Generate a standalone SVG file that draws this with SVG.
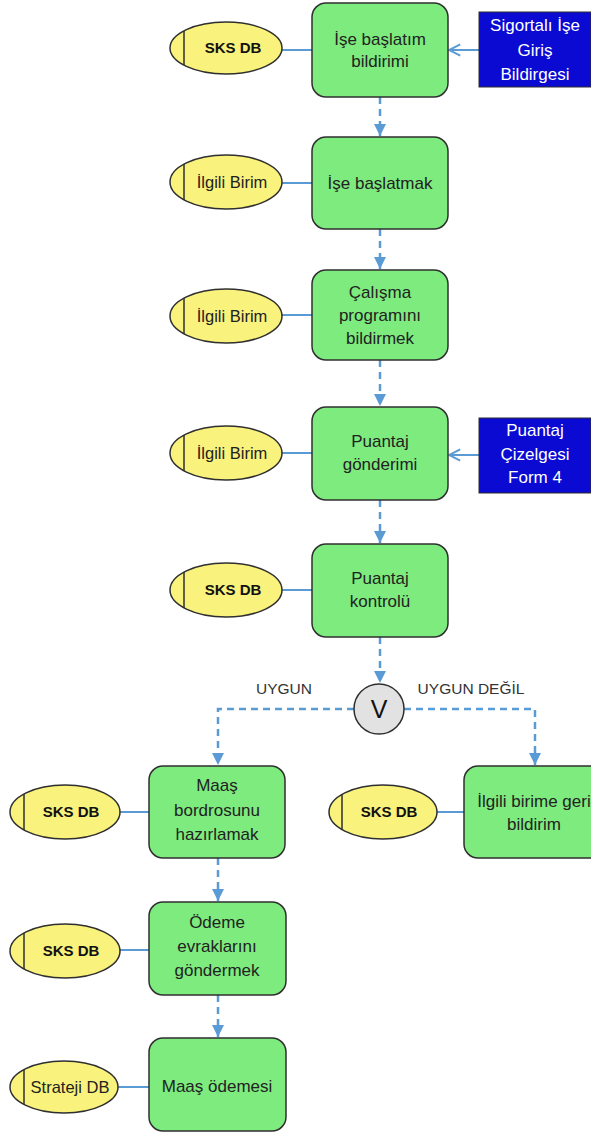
<svg xmlns="http://www.w3.org/2000/svg" width="591" height="1133" viewBox="0 0 591 1133">
<defs>
<marker id="tri" viewBox="0 0 10 10" refX="10" refY="5" markerWidth="12" markerHeight="12" markerUnits="userSpaceOnUse" orient="auto">
<path d="M0,0 L10,5 L0,10 Z" fill="#5B9BD5"/>
</marker>
<marker id="open" viewBox="0 0 10 10" refX="9" refY="5" markerWidth="14" markerHeight="14" markerUnits="userSpaceOnUse" orient="auto">
<path d="M1,1 L9,5 L1,9" fill="none" stroke="#5B9BD5" stroke-width="1.4"/>
</marker>
<style>
.box{fill:#7DEB7D;stroke:#2F2F2F;stroke-width:1.5}
.db{fill:#F9F27C;stroke:#2F2F2F;stroke-width:1.5}
.bar{stroke:#2F2F2F;stroke-width:1.5}
.doc{fill:#0A0AD2;stroke:#2F2F2F;stroke-width:1}
.t{font-family:"Liberation Sans",Arial,sans-serif;font-size:17px;fill:#222;text-anchor:middle}
.te{font-family:"Liberation Sans",Arial,sans-serif;font-size:16.5px;fill:#222;text-anchor:middle}
.tb{font-family:"Liberation Sans",Arial,sans-serif;font-size:15px;font-weight:bold;fill:#111;text-anchor:middle}
.tw{font-family:"Liberation Sans",Arial,sans-serif;font-size:17px;fill:#FFFFFF;text-anchor:middle}
.lbl{font-family:"Liberation Sans",Arial,sans-serif;font-size:15.5px;fill:#333;text-anchor:middle}
.solid{stroke:#5B9BD5;stroke-width:2;fill:none}
.dash{stroke:#5B9BD5;stroke-width:2.5;fill:none;stroke-dasharray:7 5}
</style>
</defs>

<g id="connectors">
<line class="solid" x1="282" y1="50" x2="312" y2="50"/>
<line class="solid" x1="479" y1="50" x2="449" y2="50" marker-end="url(#open)"/>
<line class="dash" x1="380" y1="97" x2="380" y2="136" marker-end="url(#tri)"/>
<line class="solid" x1="282" y1="183" x2="312" y2="183"/>
<line class="dash" x1="380" y1="229" x2="380" y2="269" marker-end="url(#tri)"/>
<line class="solid" x1="282" y1="315" x2="312" y2="315"/>
<line class="dash" x1="380" y1="360" x2="380" y2="406" marker-end="url(#tri)"/>
<line class="solid" x1="282" y1="453" x2="312" y2="453"/>
<line class="solid" x1="479" y1="455" x2="449" y2="455" marker-end="url(#open)"/>
<line class="dash" x1="380" y1="500" x2="380" y2="543" marker-end="url(#tri)"/>
<line class="solid" x1="282" y1="590" x2="312" y2="590"/>
<line class="dash" x1="380" y1="637" x2="380" y2="683" marker-end="url(#tri)"/>
<polyline class="dash" points="354,709 218,709 218,765" marker-end="url(#tri)"/>
<polyline class="dash" points="404,709 535,709 535,765" marker-end="url(#tri)"/>
<line class="solid" x1="120" y1="812" x2="149" y2="812"/>
<line class="solid" x1="437" y1="812" x2="464" y2="812"/>
<line class="dash" x1="218" y1="858" x2="218" y2="901" marker-end="url(#tri)"/>
<line class="solid" x1="120" y1="950" x2="149" y2="950"/>
<line class="dash" x1="218" y1="995" x2="218" y2="1037" marker-end="url(#tri)"/>
<line class="solid" x1="118" y1="1087" x2="149" y2="1087"/>
</g>

<g id="n1">
<rect class="box" x="312" y="3" width="136" height="94" rx="14"/>
<text class="t" x="380" y="45">İşe başlatım</text>
<text class="t" x="380" y="67">bildirimi</text>
</g>
<g id="db1">
<ellipse class="db" cx="226" cy="48" rx="56" ry="26"/>
<line class="bar" x1="184" y1="31" x2="184" y2="65"/>
<text class="tb" x="233" y="53">SKS DB</text>
</g>
<g id="doc1">
<rect class="doc" x="479" y="12" width="112" height="75"/>
<text class="tw" x="535" y="31">Sigortalı İşe</text>
<text class="tw" x="535" y="56">Giriş</text>
<text class="tw" x="535" y="80">Bildirgesi</text>
</g>

<g id="n2">
<rect class="box" x="312" y="137" width="136" height="92" rx="14"/>
<text class="t" x="380" y="189">İşe başlatmak</text>
</g>
<g id="db2">
<ellipse class="db" cx="226" cy="182" rx="56" ry="27"/>
<line class="bar" x1="184" y1="164" x2="184" y2="200"/>
<text class="te" x="232" y="188">İlgili Birim</text>
</g>

<g id="n3">
<rect class="box" x="312" y="270" width="136" height="90" rx="14"/>
<text class="t" x="380" y="298">Çalışma</text>
<text class="t" x="380" y="321">programını</text>
<text class="t" x="380" y="344">bildirmek</text>
</g>
<g id="db3">
<ellipse class="db" cx="226" cy="316" rx="56" ry="27"/>
<line class="bar" x1="184" y1="298" x2="184" y2="334"/>
<text class="te" x="232" y="322">İlgili Birim</text>
</g>

<g id="n4">
<rect class="box" x="312" y="407" width="136" height="93" rx="14"/>
<text class="t" x="380" y="447">Puantaj</text>
<text class="t" x="380" y="470">gönderimi</text>
</g>
<g id="db4">
<ellipse class="db" cx="226" cy="453" rx="56" ry="27"/>
<line class="bar" x1="184" y1="435" x2="184" y2="471"/>
<text class="te" x="232" y="459">İlgili Birim</text>
</g>
<g id="doc2">
<rect class="doc" x="479" y="418" width="112" height="75"/>
<text class="tw" x="535" y="436">Puantaj</text>
<text class="tw" x="535" y="460">Çizelgesi</text>
<text class="tw" x="535" y="483">Form 4</text>
</g>

<g id="n5">
<rect class="box" x="312" y="544" width="136" height="93" rx="14"/>
<text class="t" x="380" y="584">Puantaj</text>
<text class="t" x="380" y="607">kontrolü</text>
</g>
<g id="db5">
<ellipse class="db" cx="226" cy="590" rx="56" ry="27"/>
<line class="bar" x1="184" y1="572" x2="184" y2="608"/>
<text class="tb" x="233" y="595">SKS DB</text>
</g>

<g id="decision">
<circle cx="379" cy="709" r="25" fill="#E2E2E2" stroke="#2F2F2F" stroke-width="1.5"/>
<text x="379" y="718" style="font-family:'Liberation Sans',Arial,sans-serif;font-size:25px;fill:#111;text-anchor:middle">V</text>
<text class="lbl" x="284" y="694">UYGUN</text>
<text class="lbl" x="471" y="694">UYGUN DEĞİL</text>
</g>

<g id="n6">
<rect class="box" x="149" y="766" width="136" height="92" rx="14"/>
<text class="t" x="217" y="791">Maaş</text>
<text class="t" x="217" y="816">bordrosunu</text>
<text class="t" x="217" y="840">hazırlamak</text>
</g>
<g id="db6">
<ellipse class="db" cx="65" cy="812" rx="55" ry="27"/>
<line class="bar" x1="24" y1="794" x2="24" y2="830"/>
<text class="tb" x="71" y="817">SKS DB</text>
</g>

<g id="n7">
<rect class="box" x="464" y="766" width="140" height="92" rx="14"/>
<text class="t" x="534" y="807">İlgili birime geri</text>
<text class="t" x="534" y="830">bildirim</text>
</g>
<g id="db7">
<ellipse class="db" cx="383" cy="812" rx="54" ry="27"/>
<line class="bar" x1="342" y1="794" x2="342" y2="830"/>
<text class="tb" x="389" y="817">SKS DB</text>
</g>

<g id="n8">
<rect class="box" x="149" y="902" width="137" height="93" rx="14"/>
<text class="t" x="217" y="928">Ödeme</text>
<text class="t" x="217" y="952">evraklarını</text>
<text class="t" x="217" y="976">göndermek</text>
</g>
<g id="db8">
<ellipse class="db" cx="65" cy="951" rx="55" ry="27"/>
<line class="bar" x1="24" y1="933" x2="24" y2="969"/>
<text class="tb" x="71" y="956">SKS DB</text>
</g>

<g id="n9">
<rect class="box" x="149" y="1038" width="137" height="93" rx="14"/>
<text class="t" x="217" y="1092">Maaş ödemesi</text>
</g>
<g id="db9">
<ellipse class="db" cx="64" cy="1087" rx="54" ry="26"/>
<line class="bar" x1="24" y1="1070" x2="24" y2="1104"/>
<text class="te" x="70" y="1093">Strateji DB</text>
</g>
</svg>
